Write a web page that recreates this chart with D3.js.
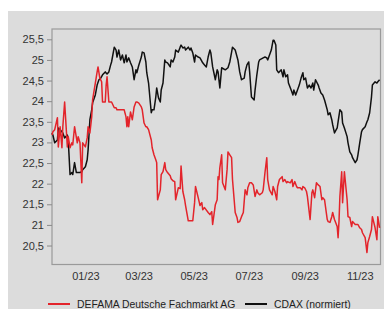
<!DOCTYPE html>
<html><head><meta charset="utf-8">
<script src="https://cdn.jsdelivr.net/npm/d3@7"></script>
<style>body{margin:0;background:#fff;}svg{display:block;font-family:"Liberation Sans",Arial,sans-serif;}</style>
</head><body><svg id="c" width="386" height="309"></svg>
<script>
const yTicks = [20.5, 21, 21.5, 22, 22.5, 23, 23.5, 24, 24.5, 25, 25.5];
const xTicks = ["2023-01-01","2023-03-01","2023-05-01","2023-07-01","2023-09-01","2023-11-01"];
const seriesNames = ["DEFAMA Deutsche Fachmarkt AG", "CDAX (normiert)"];

const cdaxDates = ["2022-11-25","2022-11-26","2022-11-28","2022-12-01","2022-12-02","2022-12-04","2022-12-06","2022-12-07","2022-12-09","2022-12-12","2022-12-13","2022-12-15","2022-12-17","2022-12-18","2022-12-20","2022-12-22","2022-12-24","2022-12-26","2022-12-28","2022-12-29",
"2023-01-01","2023-01-03","2023-01-04","2023-01-06","2023-01-08","2023-01-09","2023-01-12","2023-01-14","2023-01-16","2023-01-18","2023-01-20","2023-01-23","2023-01-25","2023-01-27","2023-01-29","2023-01-30",
"2023-02-02","2023-02-04","2023-02-05","2023-02-07","2023-02-09","2023-02-11","2023-02-13","2023-02-15","2023-02-16","2023-02-18","2023-02-20","2023-02-22","2023-02-24","2023-02-26","2023-02-27",
"2023-03-01","2023-03-04","2023-03-05","2023-03-07","2023-03-09","2023-03-10","2023-03-12","2023-03-15","2023-03-16","2023-03-18","2023-03-20","2023-03-21","2023-03-23","2023-03-25","2023-03-26","2023-03-28","2023-03-30","2023-03-31",
"2023-04-02","2023-04-05","2023-04-06","2023-04-08","2023-04-10","2023-04-11","2023-04-14","2023-04-16","2023-04-17","2023-04-19","2023-04-21","2023-04-22","2023-04-25","2023-04-27","2023-04-28","2023-04-30",
"2023-05-02","2023-05-03","2023-05-06","2023-05-08","2023-05-11","2023-05-13","2023-05-15","2023-05-17","2023-05-19","2023-05-20","2023-05-22","2023-05-25","2023-05-27","2023-05-28","2023-05-30",
"2023-06-01","2023-06-05","2023-06-08","2023-06-10","2023-06-12","2023-06-13","2023-06-16","2023-06-19","2023-06-21","2023-06-23","2023-06-26","2023-06-27","2023-06-29",
"2023-07-01","2023-07-02","2023-07-04","2023-07-07","2023-07-08","2023-07-10","2023-07-12","2023-07-13","2023-07-17","2023-07-19","2023-07-21","2023-07-22","2023-07-26","2023-07-28","2023-07-29","2023-07-31",
"2023-08-01","2023-08-03","2023-08-06","2023-08-08","2023-08-09","2023-08-11","2023-08-13","2023-08-14","2023-08-17","2023-08-19","2023-08-20","2023-08-22","2023-08-24","2023-08-26","2023-08-28","2023-08-30","2023-08-31",
"2023-09-02","2023-09-04","2023-09-06","2023-09-08","2023-09-10","2023-09-11","2023-09-13","2023-09-16","2023-09-17","2023-09-19","2023-09-21","2023-09-23","2023-09-26","2023-09-27","2023-09-29",
"2023-10-01","2023-10-02","2023-10-04","2023-10-07","2023-10-08","2023-10-10","2023-10-12","2023-10-13","2023-10-15","2023-10-18","2023-10-19","2023-10-21","2023-10-23","2023-10-24","2023-10-27","2023-10-29","2023-10-30",
"2023-11-01","2023-11-03","2023-11-04","2023-11-07","2023-11-09","2023-11-10","2023-11-12","2023-11-14","2023-11-15","2023-11-18","2023-11-20","2023-11-21","2023-11-23"];
const cdaxValues = [23.23,23.18,22.99,23.06,23.35,23.31,23.26,23.23,23.11,23.18,23.06,22.22,22.27,22.22,22.51,22.27,22.27,22.27,22.29,22.34,
22.41,22.58,22.82,23.55,23.79,23.96,24.15,24.39,24.52,24.56,24.64,24.71,24.66,24.71,24.88,24.95,
25.31,25.24,25.07,25.24,25.00,25.12,24.93,25.12,24.95,25.05,24.93,24.83,24.52,24.76,24.69,
24.86,25.07,25.19,25.17,24.95,24.69,24.44,23.72,23.79,23.79,24.10,24.32,24.08,23.98,24.27,24.44,25.00,24.95,
24.93,24.83,25.00,24.95,25.07,25.24,25.19,25.31,25.36,25.29,25.31,25.24,25.31,25.24,25.29,25.17,
24.95,25.12,25.07,25.05,24.93,24.88,24.83,25.07,25.24,25.17,24.83,24.52,24.76,24.71,24.32,
24.81,24.76,24.81,24.95,25.19,25.31,25.24,25.00,24.71,24.52,24.56,24.71,24.88,
24.95,24.71,24.10,24.03,24.27,24.64,24.95,25.00,25.05,25.07,25.05,25.00,25.24,25.48,25.48,25.36,
24.76,24.69,24.76,24.59,24.76,24.59,24.64,24.44,24.27,24.15,24.27,24.15,24.27,24.39,24.56,24.69,24.52,
24.56,24.32,24.39,24.32,24.44,24.27,24.52,24.39,24.32,24.20,24.15,24.03,23.79,23.67,23.72,
23.55,23.43,23.23,23.35,23.50,23.79,23.74,23.47,23.35,23.14,22.99,22.77,22.70,22.63,22.51,22.58,22.70,
22.99,23.26,23.31,23.38,23.50,23.55,23.72,24.10,24.39,24.47,24.44,24.47,24.52];

const defamaDates = ["2022-11-25","2022-11-26","2022-11-28","2022-12-01","2022-12-02","2022-12-04","2022-12-06","2022-12-07","2022-12-09","2022-12-12","2022-12-13","2022-12-15","2022-12-17","2022-12-18","2022-12-20","2022-12-23","2022-12-24","2022-12-26","2022-12-28","2022-12-29",
"2023-01-01","2023-01-03","2023-01-04","2023-01-06","2023-01-08","2023-01-09","2023-01-12","2023-01-14","2023-01-15","2023-01-17","2023-01-19","2023-01-20","2023-01-23","2023-01-24","2023-01-25","2023-01-27","2023-01-30",
"2023-02-02","2023-02-04","2023-02-05","2023-02-09","2023-02-13","2023-02-15","2023-02-16","2023-02-17","2023-02-18","2023-02-20","2023-02-22","2023-02-24","2023-02-26","2023-02-27",
"2023-03-01","2023-03-04","2023-03-05","2023-03-07","2023-03-09","2023-03-10","2023-03-12","2023-03-15","2023-03-16","2023-03-18","2023-03-20","2023-03-21","2023-03-22","2023-03-25","2023-03-26","2023-03-28","2023-03-30","2023-03-31",
"2023-04-02","2023-04-05","2023-04-06","2023-04-08","2023-04-10","2023-04-11","2023-04-14","2023-04-16","2023-04-17","2023-04-19","2023-04-21","2023-04-22","2023-04-25","2023-04-28","2023-04-30",
"2023-05-02","2023-05-03","2023-05-06","2023-05-08","2023-05-10","2023-05-11","2023-05-13","2023-05-17","2023-05-19","2023-05-21","2023-05-22","2023-05-25","2023-05-27","2023-05-28","2023-05-29","2023-05-30",
"2023-06-01","2023-06-02","2023-06-05","2023-06-07","2023-06-08","2023-06-10","2023-06-12","2023-06-13","2023-06-16","2023-06-18","2023-06-19","2023-06-21","2023-06-23","2023-06-25","2023-06-27","2023-06-29","2023-06-30",
"2023-07-02","2023-07-04","2023-07-06","2023-07-08","2023-07-10","2023-07-11","2023-07-13","2023-07-16","2023-07-17","2023-07-19","2023-07-21","2023-07-22","2023-07-24","2023-07-27","2023-07-28","2023-07-30",
"2023-08-01","2023-08-02","2023-08-04","2023-08-07","2023-08-08","2023-08-10","2023-08-12","2023-08-13","2023-08-16","2023-08-18","2023-08-19","2023-08-21","2023-08-23","2023-08-24","2023-08-27","2023-08-29","2023-08-30",
"2023-09-01","2023-09-03","2023-09-04","2023-09-07","2023-09-09","2023-09-10","2023-09-12","2023-09-14","2023-09-16","2023-09-18","2023-09-20","2023-09-21","2023-09-23","2023-09-26","2023-09-27","2023-09-29",
"2023-10-01","2023-10-02","2023-10-04","2023-10-07","2023-10-08","2023-10-09","2023-10-10","2023-10-12","2023-10-13","2023-10-15","2023-10-18","2023-10-19","2023-10-21","2023-10-23","2023-10-24","2023-10-27","2023-10-30",
"2023-11-01","2023-11-03","2023-11-04","2023-11-07","2023-11-09","2023-11-10","2023-11-12","2023-11-14","2023-11-15","2023-11-18","2023-11-20","2023-11-21","2023-11-23"];
const defamaValues = [23.18,23.26,23.31,23.60,22.89,23.38,22.87,23.38,23.98,22.89,23.14,22.87,22.99,22.94,23.38,22.99,23.14,22.99,22.02,22.99,
22.89,23.11,23.38,23.23,23.62,24.03,24.44,24.71,24.83,24.56,24.47,23.98,23.98,24.39,24.59,23.98,23.98,
23.84,23.84,23.79,23.79,23.79,23.62,23.38,23.62,23.38,23.74,23.55,23.86,23.98,23.98,
23.96,23.86,23.79,23.47,23.38,23.38,23.31,23.06,22.87,22.70,22.58,22.51,21.61,21.85,22.22,22.29,22.51,22.34,
22.27,22.19,22.12,22.07,22.05,21.61,21.90,21.88,22.43,21.81,21.61,21.47,21.10,21.10,21.10,
21.54,21.93,21.66,21.47,21.54,21.37,21.42,21.30,21.25,21.32,21.01,21.49,21.61,22.17,22.10,22.39,
22.70,22.02,21.85,22.34,22.77,22.70,22.63,22.10,21.30,21.18,21.06,21.08,21.20,21.30,21.85,21.73,21.90,
22.02,22.02,21.97,21.69,21.85,21.78,21.73,21.78,21.85,22.27,22.63,22.10,21.85,21.73,21.93,21.81,
21.61,21.93,22.10,22.17,22.05,22.10,22.02,22.05,22.02,22.10,21.93,22.05,21.93,21.90,21.90,21.85,21.93,
21.90,21.81,21.69,21.13,21.78,21.85,21.66,22.02,21.97,21.93,21.61,21.66,21.61,21.13,21.08,21.06,
21.20,21.30,21.13,20.96,20.69,21.08,21.69,22.29,21.54,22.29,21.61,21.20,21.18,20.96,21.08,21.01,21.01,
20.93,20.89,20.81,20.69,20.33,20.57,20.72,20.89,21.20,20.93,20.64,21.20,20.93];

const colors = ["#e3242b", "#111111"];

(function () {
  const parse = d3.utcParse("%Y-%m-%d");
  const svg = d3.select("#c");
  const font = "Liberation Sans, Arial, sans-serif";

  svg.append("rect").attr("x", 8).attr("y", 11).attr("width", 376).attr("height", 298).attr("fill", "#dcdcdc");

  const pl = 52, pr = 380.5, pt = 29, pb = 264.5;
  const x = d3.scaleUtc().domain([parse("2022-11-25"), parse("2023-11-24")]).range([pl, pr]);
  const y = d3.scaleLinear().domain([20.04, 25.75]).range([pb, pt]);

  svg.append("rect").attr("x", pl).attr("y", pt).attr("width", pr - pl).attr("height", pb - pt)
    .attr("fill", "none").attr("stroke", "#9a9a9a").attr("stroke-width", 1.2);

  const yAxis = svg.append("g").attr("transform", `translate(${pl},0)`)
    .call(d3.axisLeft(y).tickValues(yTicks).tickSize(5).tickPadding(3)
      .tickFormat(d => String(d).replace(".", ",")));
  yAxis.select(".domain").remove();
  yAxis.selectAll("line").attr("stroke", "#8a8a8a");
  yAxis.selectAll("text").attr("fill", "#333").style("font-size", "11px").style("font-family", font);

  const xAxis = svg.append("g").attr("transform", `translate(0,${pb})`)
    .call(d3.axisBottom(x).tickValues(xTicks.map(parse)).tickSize(0).tickPadding(8)
      .tickFormat(d3.utcFormat("%m/%y")));
  xAxis.select(".domain").remove();
  xAxis.selectAll("text").attr("fill", "#333").style("font-size", "11px").style("font-family", font);

  const line = d3.line().x(d => x(d[0])).y(d => y(d[1]));
  const series = [
    {name: seriesNames[0], dates: defamaDates, values: defamaValues, color: colors[0]},
    {name: seriesNames[1], dates: cdaxDates, values: cdaxValues, color: colors[1]}
  ];
  [series[1], series[0]].forEach(s => {
    svg.append("path")
      .datum(s.dates.map((d, i) => [parse(d), s.values[i]]))
      .attr("fill", "none").attr("stroke", s.color).attr("stroke-width", 1.5)
      .attr("stroke-linejoin", "round")
      .attr("d", line);
  });

  const lg = svg.append("g").style("font-family", font).style("font-size", "10.4px");
  const legendX = [48, 245];
  series.forEach((s, i) => {
    lg.append("line").attr("x1", legendX[i]).attr("x2", legendX[i] + 22).attr("y1", 304).attr("y2", 304)
      .attr("stroke", s.color).attr("stroke-width", 2);
    lg.append("text").attr("x", legendX[i] + 29).attr("y", 308).attr("fill", "#222").text(s.name);
  });
})();
</script></body></html>
